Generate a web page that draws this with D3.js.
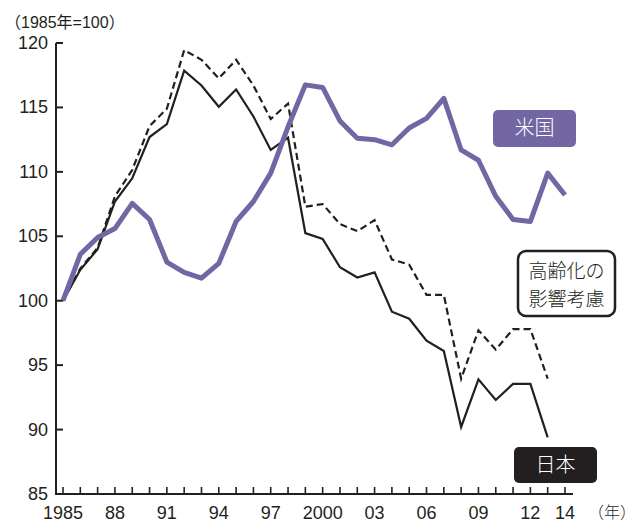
<!DOCTYPE html>
<html><head><meta charset="utf-8">
<script src="https://cdn.jsdelivr.net/npm/d3@7"></script>
<style>
body{margin:0;background:#fff;}
text{font-family:"Liberation Sans","Noto Sans CJK JP",sans-serif;fill:#231f20;}
.jp{font-family:"Noto Sans CJK JP",sans-serif;font-weight:300;}
</style></head>
<body><svg id="c" width="638" height="522"></svg>
<script>
const years = d3.range(1985, 2015);
const usValues = [100,103.6,104.9,105.6,107.55,106.3,103.0,102.2,101.75,102.9,106.15,107.7,109.9,113.5,116.75,116.55,113.95,112.6,112.5,112.1,113.4,114.15,115.7,111.7,110.9,108.1,106.3,106.15,109.9,108.2];
const japanValues = [100,102.4,104.0,107.7,109.5,112.7,113.7,117.85,116.7,115.05,116.4,114.3,111.7,112.65,105.25,104.8,102.6,101.8,102.2,99.15,98.6,96.9,96.1,90.2,93.9,92.3,93.55,93.55,89.4];
const agingAdjValues = [100,102.5,104.1,108.1,110.15,113.55,114.9,119.45,118.7,117.25,118.7,116.7,114.1,115.3,107.3,107.5,105.95,105.4,106.25,103.2,102.8,100.45,100.45,93.95,97.7,96.2,97.8,97.8,93.95];
const yTicks = [85,90,95,100,105,110,115,120];
const xTickLabels = [[1985,"1985"],[1988,"88"],[1991,"91"],[1994,"94"],[1997,"97"],[2000,"2000"],[2003,"03"],[2006,"06"],[2009,"09"],[2012,"12"],[2014,"14"]];

const ink = "#231f20", purple = "#7266a3";
const svg = d3.select("#c");
const x = d3.scaleLinear().domain([1985, 2014]).range([63, 565]);
const y = d3.scaleLinear().domain([85, 120]).range([494, 43]);

// y axis
svg.append("line").attr("x1",56).attr("x2",56).attr("y1",y(120)).attr("y2",y(85)+1).attr("stroke",ink).attr("stroke-width",2);
svg.selectAll(".yt").data(yTicks).enter().append("line")
  .attr("x1",56).attr("x2",63).attr("y1",d=>y(d)).attr("y2",d=>y(d)).attr("stroke",ink).attr("stroke-width",2);
svg.selectAll(".yl").data(yTicks).enter().append("text")
  .attr("x",48).attr("y",d=>y(d)+6).attr("text-anchor","end").attr("font-size",18).text(d=>d);
// x axis
svg.append("line").attr("x1",55).attr("x2",573).attr("y1",494).attr("y2",494).attr("stroke",ink).attr("stroke-width",2);
svg.selectAll(".xt").data(years).enter().append("line")
  .attr("x1",d=>x(d)).attr("x2",d=>x(d)).attr("y1",494).attr("y2",487).attr("stroke",ink).attr("stroke-width",1.6);
svg.selectAll(".xl").data(xTickLabels).enter().append("text")
  .attr("x",d=>x(d[0])).attr("y",519).attr("text-anchor","middle").attr("font-size",18).text(d=>d[1]);
svg.append("text").attr("class","jp").attr("x",588).attr("y",518).attr("font-size",16).text("（年）");
svg.append("text").attr("x",5).attr("y",28).attr("font-size",16).text("（1985年=100）");

const line = d3.line().x((d,i)=>x(years[i])).y(d=>y(d));
svg.append("path").datum(agingAdjValues).attr("d",line).attr("fill","none").attr("stroke",ink).attr("stroke-width",2.2).attr("stroke-dasharray","7,4");
svg.append("path").datum(japanValues).attr("d",line).attr("fill","none").attr("stroke",ink).attr("stroke-width",2.2);
svg.append("path").datum(usValues).attr("d",line).attr("fill","none").attr("stroke",purple).attr("stroke-width",5).attr("stroke-linejoin","round");

// labels
svg.append("rect").attr("x",493).attr("y",110).attr("width",83).attr("height",37).attr("rx",5).attr("fill",purple);
svg.append("text").attr("class","jp").attr("x",534.5).attr("y",135).attr("text-anchor","middle").attr("font-size",20).style("fill","#fff").text("米国");
svg.append("rect").attr("x",518).attr("y",251).attr("width",97).attr("height",65).attr("rx",8).attr("fill","#fff").attr("stroke",ink).attr("stroke-width",2.5);
svg.append("text").attr("class","jp").attr("x",566.5).attr("y",278).attr("text-anchor","middle").attr("font-size",19).text("高齢化の");
svg.append("text").attr("class","jp").attr("x",566.5).attr("y",306).attr("text-anchor","middle").attr("font-size",19).text("影響考慮");
svg.append("rect").attr("x",514).attr("y",447).attr("width",83).attr("height",36).attr("rx",5).attr("fill",ink);
svg.append("text").attr("class","jp").attr("x",555.5).attr("y",472).attr("text-anchor","middle").attr("font-size",20).style("fill","#fff").text("日本");
</script></body></html>
